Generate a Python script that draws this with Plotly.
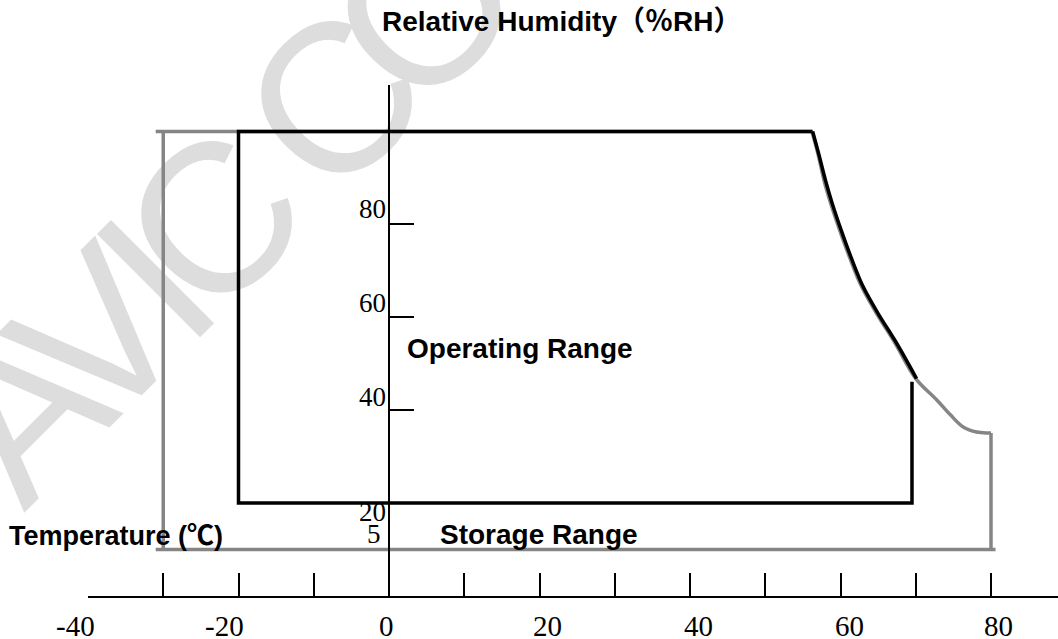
import plotly.graph_objects as go

# ---------------- data ----------------
temp_ticks = [-40, -30, -20, -10, 0, 10, 20, 30, 40, 50, 60, 70, 80]
temp_label_vals = [-40, -20, 0, 20, 40, 60, 80]
temp_label_text = ["-40", "-20", "0", "20", "40", "60", "80"]
hum_ticks = [40, 60, 80, 110]
hum_labels = ["80", "60", "40", "20", "5"]

# operating range: straight edges (temperature degC, humidity %RH)
op_box_T = [69.5, 69.5, -20, -20, 56.3]
op_box_H = [46.1, 20, 20, 100, 100]
# operating range: high-temperature humidity limit curve
op_curve_T = [56.3, 57.1, 58.0, 58.9, 60.1, 61.5, 63.0, 65.0, 67.5, 70.1]
op_curve_H = [100, 95.2, 89.5, 84.5, 78.7, 72.5, 66.6, 60.8, 54.3, 46.8]

# storage range: straight edges
st_box_T = [-31, 56.2, None, 80, 80, 80.6, -31, None, -30, -30]
st_box_H = [100, 100, None, 35.1, 10, 10, 10, None, 100, 10]
# storage range: limit curve
st_curve_T = [56.2, 57.0, 57.8, 58.7, 59.9, 61.3, 62.8, 64.8, 67.3, 70.0, 72.8, 74.6, 76.3, 78.1, 79.6, 80]
st_curve_H = [100, 95.2, 89.5, 84.5, 78.7, 72.5, 66.6, 60.8, 54.3, 46.8, 42.2, 39.0, 36.4, 35.3, 35.1, 35.1]

# watermark letters
wm_letters = ["A", "V", "I", "C", "C", "O"]

# ---------------- layout geometry ----------------
W, H = 1058, 639
ML, MR, MT, MB = 88, 0, 85, 43
PW, PH = W - ML - MR, H - MT - MB
X_RANGE = [-40, -40 + PW / 7.525]
Y_RANGE = [0, 110]


def px_x(px):
    return (px - ML) / PW


def px_y(py):
    return (H - MB - py) / PH


BLACK = "#000000"
GRAY = "#858585"
SANS = "Liberation Sans, Arial, Noto Sans CJK SC"
SERIF = "Liberation Serif, Times New Roman, serif"
LW = 3.5

fig = go.Figure()

fig.add_trace(go.Scatter(x=st_box_T, y=st_box_H, mode="lines",
                         line=dict(color=GRAY, width=LW), hoverinfo="skip", showlegend=False))
fig.add_trace(go.Scatter(x=st_curve_T, y=st_curve_H, mode="lines",
                         line=dict(color=GRAY, width=LW, shape="spline", smoothing=1),
                         hoverinfo="skip", showlegend=False))
fig.add_trace(go.Scatter(x=op_box_T, y=op_box_H, mode="lines",
                         line=dict(color=BLACK, width=LW), hoverinfo="skip", showlegend=False))
fig.add_trace(go.Scatter(x=op_curve_T, y=op_curve_H, mode="lines",
                         line=dict(color=BLACK, width=LW, shape="spline", smoothing=1),
                         hoverinfo="skip", showlegend=False))

# temperature axis labels (placed like the original, slightly off the ticks)
temp_label_shift = [-13, -14, -3, 8, 8.5, 8.5, 7.5]
for v, lab, sh in zip(temp_label_vals, temp_label_text, temp_label_shift):
    fig.add_annotation(x=v, y=px_y(626), xref="x", yref="paper", text=lab, showarrow=False,
                       xanchor="center", yanchor="middle", xshift=sh,
                       font=dict(family=SERIF, size=29, color=BLACK))

# humidity axis labels (drawn beside the axis at x=0)
label_pos_H = [83.3, 63.1, 42.8, 18.1, 13.3]
label_pos_T = [-0.4, -0.4, -0.4, -0.4, -1.1]
for t, lab, yy in zip(label_pos_T, hum_labels, label_pos_H):
    fig.add_annotation(x=t, y=yy, xref="x", yref="y", text=lab, showarrow=False,
                       xanchor="right", yanchor="middle", xshift=2,
                       font=dict(family=SERIF, size=27, color=BLACK))

texts = [
    ("Relative Humidity（％RH）", 380, 22, 28),
    ("Temperature (℃)", 7, 536, 27),
    ("Operating Range", 405, 348, 28),
    ("Storage Range", 438, 534, 28),
]
for txt, x0, y0, fs in texts:
    fig.add_annotation(x=px_x(x0), y=px_y(y0), xref="paper", yref="paper", text=txt,
                       showarrow=False, xanchor="left", yanchor="middle",
                       font=dict(family=SANS, size=fs, color=BLACK, weight="bold"))

# watermark (pixel centres of the letters, drawn beneath the chart)
wm_px = [(8, 397), (83, 322), (141, 264), (199, 206), (319, 86), (410, -6)]
for ch, (cx, cy) in zip(wm_letters, wm_px):
    fig.add_shape(type="rect", xref="paper", yref="paper",
                  x0=px_x(cx - 1), x1=px_x(cx + 1), y0=px_y(cy + 1), y1=px_y(cy - 1),
                  line=dict(width=0), fillcolor="rgba(0,0,0,0)", layer="below",
                  label=dict(text=ch, textangle=-45, textposition="middle center",
                             font=dict(family="Liberation Sans", size=212, color="#dddddd")))

fig.update_layout(
    width=W, height=H, autosize=False,
    margin=dict(l=ML, r=MR, t=MT, b=MB, pad=0),
    paper_bgcolor="white", plot_bgcolor="white",
    showlegend=False,
    xaxis=dict(range=X_RANGE, showgrid=False, zeroline=False, showline=True,
               linecolor=BLACK, linewidth=2, ticks="inside", ticklen=23, tickwidth=2,
               tickcolor=BLACK, tickvals=temp_ticks, showticklabels=False,
               automargin=False, fixedrange=True),
    yaxis=dict(range=Y_RANGE, showgrid=False, zeroline=False, showline=True,
               linecolor=BLACK, linewidth=2, ticks="inside", ticklen=24, tickwidth=2,
               tickcolor=BLACK, tickvals=hum_ticks, showticklabels=False,
               anchor="free", position=(389 - ML) / PW, automargin=False, fixedrange=True),
)

fig.write_html("out.html", config={"displayModeBar": False},
               post_script="document.body.style.margin='0';document.body.style.overflow='hidden';")
